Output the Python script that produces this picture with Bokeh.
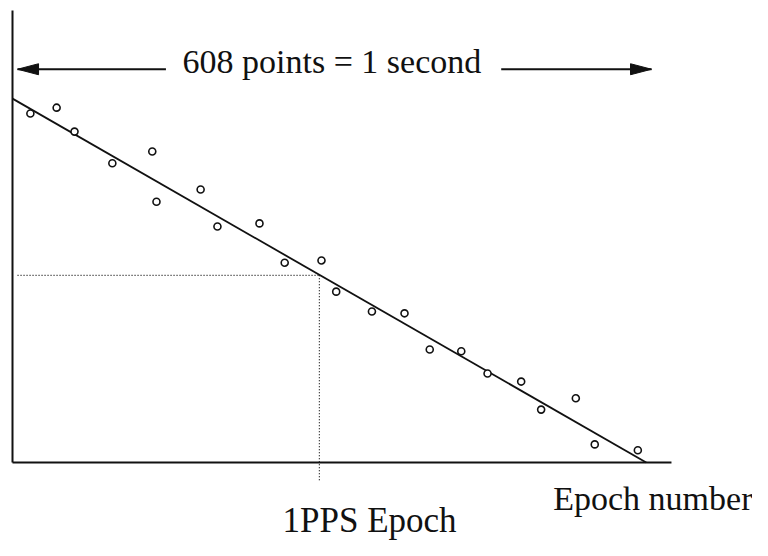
from bokeh.plotting import figure
from bokeh.embed import file_html
from bokeh.resources import INLINE
from bokeh.core.properties import value
from bokeh.models import Range1d

# Sample index (points within the second) and measured offset (arbitrary units)
epoch_x = [17, 42, 59, 95, 133, 137, 179, 195, 235, 259, 294,
           308, 342, 373, 397, 427, 452, 484, 503, 536, 554, 595]
offset_y = [77.2, 78.5, 73.2, 66.2, 68.8, 57.7, 60.4, 52.2, 52.9, 44.2, 44.7,
            37.8, 33.4, 33.0, 25.0, 24.6, 19.7, 17.9, 11.7, 14.2, 4.0, 2.7]

# fitted line end points
fit_x = [0, 603]
fit_y = [80.5, 0]

# 1PPS epoch crossing
pps_x = 292
pps_y = 41.4

# axis extents
x_axis_end = 627
y_axis_top = 100

# span arrow: 608 points = 1 second
span_start = 4.8
span_end = 608
span_y = 87
span_left_shaft_end = 146
span_right_shaft_start = 465

title_text = "608 points = 1 second"
label_pps = "1PPS Epoch"
label_x = "Epoch number"

INK = "#111111"
FONT = "Liberation Serif"

X0, X1 = -11.418, 704.1
Y0, Y1 = -17.26, 102.21
W, H = 752, 540

p = figure(width=W, height=H, output_backend="svg", toolbar_location=None,
           x_range=Range1d(X0, X1), y_range=Range1d(Y0, Y1),
           min_border=0, min_border_left=0, min_border_right=0,
           min_border_top=0, min_border_bottom=0)
p.axis.visible = False
p.xgrid.visible = False
p.ygrid.visible = False
p.outline_line_color = None
p.background_fill_color = "white"
p.border_fill_color = "white"

# axes drawn as lines
p.segment(x0=[0, 0], y0=[0, 0], x1=[0, x_axis_end], y1=[y_axis_top, 0],
          line_color=INK, line_width=2)

# dotted guides
p.segment(x0=[span_start, pps_x], y0=[pps_y, pps_y], x1=[pps_x, pps_x], y1=[pps_y, -4.4],
          line_color=INK, line_width=1.2, line_dash="1 2")

# fitted line
p.line(fit_x, fit_y, line_color=INK, line_width=1.8)

# points
p.scatter(epoch_x, offset_y, marker="circle", size=7, fill_color="white",
          line_color=INK, line_width=1.6)

# span arrow shafts
p.segment(x0=[span_start, span_right_shaft_start], y0=[span_y, span_y],
          x1=[span_left_shaft_end, span_end], y1=[span_y, span_y],
          line_color=INK, line_width=2)

# arrow heads (pixel-sized, converted to data units)
px_per_x = W / (X1 - X0)
px_per_y = H / (Y1 - Y0)
head_len = 21 / px_per_x
head_half = 5.5 / px_per_y
heads_x = [[span_start, span_start + head_len, span_start + head_len],
           [span_end, span_end - head_len, span_end - head_len]]
heads_y = [[span_y, span_y + head_half, span_y - head_half],
           [span_y, span_y + head_half, span_y - head_half]]
p.patches(heads_x, heads_y, fill_color=INK, line_color=INK, line_width=1)

# texts
p.text(x=[161.8], y=[88.75], text=[title_text], text_font=value(FONT),
       text_font_size=value("34px"), text_baseline="alphabetic", text_align="left",
       text_color=INK)
p.text(x=[256.9], y=[-12.84], text=[label_pps], text_font=value(FONT),
       text_font_size=value("35px"), text_baseline="alphabetic", text_align="left",
       text_color=INK)
p.text(x=[514.5], y=[-7.9], text=[label_x], text_font=value(FONT),
       text_font_size=value("34px"), text_baseline="alphabetic", text_align="left",
       text_color=INK)

open("out.html", "w").write(file_html(p, INLINE))
